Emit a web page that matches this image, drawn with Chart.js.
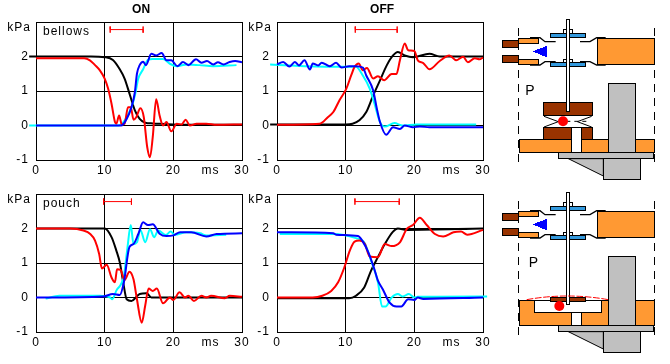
<!DOCTYPE html>
<html>
<head>
<meta charset="utf-8">
<title>Valve pressure traces</title>
<script src="https://cdn.jsdelivr.net/npm/chart.js@4"></script>
<style>
  html, body { margin: 0; background: #fff; }
  body { width: 670px; height: 364px; position: relative; overflow: hidden; }
  canvas, svg { position: absolute; }
</style>
</head>
<body>
<canvas id="onBellows" width="250" height="182" style="left:0;top:0"></canvas>
<canvas id="offBellows" width="250" height="182" style="left:240px;top:0"></canvas>
<canvas id="onPouch" width="250" height="182" style="left:0;top:172px"></canvas>
<canvas id="offPouch" width="250" height="182" style="left:240px;top:172px"></canvas>

<!-- valve drawings, coordinates are 3x screen pixels -->
<svg width="180" height="364" viewBox="0 0 540 1092" style="left:490px;top:0" shape-rendering="crispEdges">
  <defs>
    <g id="valve" stroke="#000" stroke-width="3">
      <rect x="37" y="121" width="48" height="22" fill="#993300"/>
      <rect x="37" y="165" width="48" height="22" fill="#993300"/>
      <rect x="85" y="115" width="60" height="15" fill="#ff9933"/>
      <rect x="85" y="178" width="60" height="15" fill="#ff9933"/>
      <rect x="322" y="115" width="171" height="78" fill="#ff9933"/>
      <polygon points="127,154 170,138 170,172" fill="#0000ff" stroke="none"/>
      <g fill="none" stroke-width="4" shape-rendering="auto">
        <polyline points="120,113 150,113 165,125 197,125"/>
        <polyline points="120,195 150,195 165,185 197,185"/>
        <polyline points="347,113 320,113 300,125 270,125"/>
        <polyline points="347,195 320,195 300,185 270,185"/>
      </g>
      <rect x="220" y="88" width="28" height="12" fill="#fff"/>
      <rect x="220" y="178" width="28" height="10" fill="#fff"/>
      <rect x="181" y="100" width="106" height="12" fill="#3399dd"/>
      <rect x="181" y="188" width="106" height="12" fill="#3399dd"/>
    </g>
    <g id="mount" stroke="#000" stroke-width="3">
      <rect x="205" y="458" width="286" height="18" fill="#c0c0c0"/>
      <polygon points="235,476 340,528 340,476" fill="#c0c0c0" shape-rendering="auto"/>
      <rect x="340" y="476" width="112" height="62" fill="#c0c0c0"/>
    </g>
  </defs>

  <!-- bellows -->
  <g stroke="#000" stroke-width="3" stroke-dasharray="24 18">
    <line x1="85" y1="85" x2="85" y2="495"/>
    <line x1="493" y1="85" x2="493" y2="495"/>
  </g>
  <use href="#valve"/>
  <text x="106" y="285" font-family="Liberation Sans" font-size="42">P</text>
  <g stroke="#000" stroke-width="3">
    <rect x="87" y="418" width="406" height="40" fill="#ff9933"/>
    <rect x="355" y="250" width="82" height="208" fill="#c0c0c0"/>
    <rect x="160" y="307" width="148" height="39" fill="#993300"/>
    <rect x="160" y="382" width="148" height="36" fill="#993300"/>
    <rect x="245" y="382" width="30" height="76" fill="#fff"/>
    <rect x="229" y="58" width="10" height="276" fill="#fff"/>
    <g fill="none" shape-rendering="auto">
      <polyline points="162,349 205,365 162,381"/>
      <polyline points="305,349 262,365 305,381"/>
      <line x1="205" y1="364" x2="290" y2="364" stroke-dasharray="12 12"/>
    </g>
  </g>
  <circle cx="219" cy="364" r="15" fill="#ff0000" shape-rendering="auto"/>
  <use href="#mount"/>

  <!-- pouch -->
  <g transform="translate(0,519)">
    <g stroke="#000" stroke-width="3" stroke-dasharray="24 18">
      <line x1="85" y1="85" x2="85" y2="495"/>
      <line x1="493" y1="85" x2="493" y2="495"/>
    </g>
    <use href="#valve"/>
    <text x="116" y="282" font-family="Liberation Sans" font-size="42">P</text>
    <g stroke="#000" stroke-width="3">
      <rect x="87" y="382" width="406" height="76" fill="#ff9933"/>
      <rect x="133" y="382" width="202" height="36" fill="#fff"/>
      <rect x="245" y="418" width="30" height="40" fill="#fff"/>
      <rect x="355" y="250" width="82" height="208" fill="#c0c0c0"/>
      <rect x="181" y="373" width="106" height="12" fill="#993300"/>
      <rect x="229" y="58" width="10" height="336" fill="#fff"/>
    </g>
    <path d="M110 380 Q232 358 355 380" fill="none" stroke="#ff0000" stroke-width="3" stroke-dasharray="20 5" shape-rendering="auto"/>
    <circle cx="208" cy="399" r="15" fill="#ff0000" shape-rendering="auto"/>
    <use href="#mount"/>
  </g>
</svg>

<script>
// traces, each point is [ms, kPa]
const onBellowsBlack = [[-1,2],[8,2],[10,1.98],[11.2,1.9],[12.2,1.63],[12.9,1.36],[13.7,.87],[14.4,.44],[15.1,.19],[15.9,.08],[17,.06],[20,.03],[22,.02],[30,.02]];
const onBellowsCyan = [[-1,0],[12,0],[12.6,.07],[13.2,.24],[13.9,.53],[14.4,.87],[14.9,1.36],[15.6,1.63],[16.3,1.9],[17,1.93],[18.5,1.93],[19.5,1.79],[20.5,1.72],[22,1.77],[23.8,1.75],[25.8,1.72],[29.2,1.75]];
const onBellowsRed = [[0,1.95],[7,1.95],[7.85,1.89],[8.6,1.75],[9.3,1.6],[10,1.36],[10.5,1.07],[11,.63],[11.5,.1],[11.7,.05],[12.1,.29],[12.5,.03],[12.9,.05],[13.4,.53],[13.8,.53],[14.2,.17],[14.6,.24],[15.2,.5],[15.7,.24],[16.2,-.63],[16.6,-.92],[17,-.34],[17.5,.76],[18,.29],[18.5,0],[19,.1],[19.7,-.17],[20.5,.05],[21.2,.03],[21.8,.17],[22.4,0],[23.4,.05],[24.8,.05],[26.3,.02],[30,.03]];
const onBellowsBlue = [[0,0],[12.4,0],[13.2,.19],[13.9,.53],[14.4,.97],[14.7,1.5],[15.1,1.75],[15.6,1.85],[16,1.75],[16.8,2.08],[17.5,2.03],[18.3,2.1],[19,1.89],[19.7,1.89],[20.6,1.72],[21.4,1.84],[22.2,1.75],[23.3,1.92],[24.1,1.82],[24.9,1.87],[25.8,1.77],[26.5,1.83],[27.3,1.77],[28.2,1.84],[29,1.87],[30,1.83]];
const onBellowsSpan = [10.8, 15.6];

const offBellowsBlack = [[-1,.03],[10,.03],[11,.05],[12,.15],[13,.39],[14,.87],[15,1.31],[16,1.75],[16.9,2.03],[17.6,2.13],[18.6,2.03],[19.8,1.98],[22.2,2.08],[23.7,2],[30,2]];
const offBellowsCyan = [[-1,1.77],[8.2,1.7],[11.5,1.7],[12.5,1.45],[13.5,1.07],[14.2,.63],[15,.1],[15.7,-.03],[17.1,.07],[18.3,0],[20.3,.03],[29,.03]];
const offBellowsRed = [[0,.02],[6.2,.05],[7.4,.24],[8.2,.39],[9.1,.73],[10.1,1.07],[10.8,1.45],[11.3,1.7],[11.9,1.8],[12.5,1.6],[13.1,1.67],[14,1.36],[14.7,1.43],[15.6,1.31],[16.7,1.49],[17.4,1.49],[17.9,1.89],[18.6,2.38],[19.1,2.18],[20,2.16],[20.5,1.89],[21.3,1.81],[22.2,1.63],[23.7,1.87],[25.1,2.03],[26.1,1.89],[27.1,1.99],[27.8,1.83],[28.8,1.95],[29.5,1.92],[30,1.97]];
const offBellowsBlue = [[0,1.77],[.9,1.84],[1.8,1.71],[2.6,1.84],[3.2,1.74],[4,1.89],[4.8,1.62],[5.2,1.8],[6,1.74],[6.5,1.82],[7.7,1.72],[8.6,1.82],[9.4,1.68],[10.5,1.72],[11.5,1.72],[12.5,1.68],[13,1.45],[14,1.02],[14.5,.53],[15,.1],[15.9,-.27],[16.9,-.05],[17.9,-.1],[18.6,0],[19.8,-.05],[20.8,-.03],[22.2,-.05],[30,-.05]];
const offBellowsSpan = [11.4, 17.5];

const onPouchBlack = [[0,2],[10,2],[11,1.75],[11.7,1.36],[12.2,1.02],[12.7,.44],[13.2,-.05],[13.9,-.1],[15.1,.1],[16.1,.12],[16.8,0],[30,0]];
const onPouchCyan = [[1.4,-.03],[3.4,.05],[9.3,.05],[10.8,0],[11.1,-.05],[11.7,.2],[12.8,.63],[13.3,1.41],[13.8,2.1],[14.2,1.55],[14.7,1.6],[15.2,1.96],[15.9,1.6],[16.6,1.98],[17.2,1.75],[17.8,1.94],[18.9,1.81],[19.6,1.91],[20.2,1.82],[21.9,1.89],[23.9,1.86],[24.8,1.8],[27.7,1.82]];
const onPouchRed = [[0,2],[5,2],[6.9,1.94],[7.9,1.84],[8.6,1.65],[9.2,1.26],[9.6,.84],[10.3,.95],[11,.58],[11.5,.44],[11.8,.82],[12.3,.8],[12.9,.51],[13.6,.75],[14.2,.53],[14.7,-.05],[15.4,-.73],[15.9,-.24],[16.4,.26],[17,.19],[17.6,.26],[18.5,-.17],[19.5,0],[20,-.07],[20.9,.15],[21.7,0],[22.2,.05],[23,-.1],[24.1,.05],[24.8,0],[25.5,.05],[27.5,-.02],[28.2,.05],[30,.02]];
const onPouchBlue = [[0,0],[9.8,.03],[11.2,.1],[12.2,.07],[12.8,.44],[13.6,1.46],[14.2,1.55],[14.9,1.84],[15.6,2.18],[16.3,2.1],[17,2.12],[18,1.85],[19,1.78],[20,1.8],[21,1.89],[22.6,1.89],[24.8,1.77],[26.3,1.84],[30,1.86]];
const onPouchSpan = [9.85, 13.9];

const offPouchBlack = [[0,-.02],[10.5,-.02],[11.5,.05],[12.7,.29],[13.7,.78],[14.7,1.17],[15.7,1.55],[16.9,1.91],[17.6,2],[18.9,1.96],[30,2]];
const offPouchCyan = [[.4,1.84],[8.2,1.84],[11.5,1.72],[12.7,1.6],[13.7,1.07],[14.7,.44],[15.3,-.26],[15.8,-.26],[16.7,0],[17.6,.1],[18.3,.03],[19.2,.1],[20,0],[20.5,.02],[30.6,.03]];
const offPouchRed = [[0,0],[5.2,0],[6.6,.05],[7.9,.19],[8.9,.44],[9.8,.87],[10.6,1.36],[11.3,1.62],[12,1.65],[12.8,1.55],[13.5,1.19],[14.7,1.17],[15.7,1.55],[16.7,1.49],[17.9,1.6],[18.9,1.99],[19.8,2.1],[20.8,2.31],[21.8,2.1],[23,1.84],[24.2,1.77],[25.7,1.89],[26.8,1.91],[27.7,1.82],[30,1.96]];
const offPouchBlue = [[0,1.89],[2,1.89],[8.2,1.86],[8.6,1.82],[11.8,1.78],[12.5,1.62],[13.3,1.31],[14.1,.87],[14.7,.49],[15.4,.24],[16.4,-.15],[17.4,-.26],[18.1,-.26],[19.1,-.05],[20,-.07],[20.5,0],[21.3,-.04],[30,0]];
const offPouchSpan = [11.35, 17.8];

const xTicks = [0, 10, 20, 30];
const yTicks = [-1, 0, 1, 2];
const spanLevel = 2.78;
const spanCap = 0.09;

const textFont = "12px 'Liberation Sans', Arial, sans-serif";

// chart title, axis units and the panel name
const panelText = {
    id: 'panelText',
    beforeDraw: function (chart) {
        chart.ctx.letterSpacing = '1px';
    },
    afterDraw: function (chart, args, opts) {
        var ctx = chart.ctx, area = chart.chartArea;
        ctx.save();
        ctx.fillStyle = '#000';
        ctx.font = textFont;
        ctx.textBaseline = 'middle';
        ctx.textAlign = 'right';
        ctx.fillText('kPa', area.left - 5, 28);
        ctx.textAlign = 'center';
        ctx.fillText('ms', chart.scales.x.getPixelForValue(25.4), 171);
        if (opts.name) {
            ctx.textAlign = 'left';
            ctx.fillText(opts.name, area.left + 7, 32);
        }
        if (opts.title) {
            ctx.letterSpacing = '0px';
            ctx.font = "bold 12px 'Liberation Sans', Arial, sans-serif";
            ctx.textAlign = 'center';
            ctx.fillText(opts.title, chart.scales.x.getPixelForValue(15.3), 10);
        }
        ctx.restore();
    }
};

function toXY(points) {
    return points.map(function (p) { return { x: p[0], y: p[1] }; });
}

function trace(points, color) {
    return {
        data: toXY(points), borderColor: color, borderWidth: 2, pointRadius: 0,
        cubicInterpolationMode: 'monotone', clip: false
    };
}

function drawPanel(id, black, cyan, red, blue, span, name, title) {
    var spanPoints = [
        [span[0], spanLevel + spanCap], [span[0], spanLevel - spanCap], [span[0], spanLevel],
        [span[1], spanLevel], [span[1], spanLevel + spanCap], [span[1], spanLevel - spanCap]
    ];
    var spanSet = { data: toXY(spanPoints), borderColor: '#ff0000', borderWidth: 1, pointRadius: 0, tension: 0 };
    new Chart(document.getElementById(id), {
        type: 'line',
        data: {
            // first dataset ends up on top
            datasets: [spanSet, trace(blue, '#0000ff'), trace(red, '#ff0000'), trace(cyan, '#00ffff'), trace(black, '#000000')]
        },
        options: {
            responsive: false,
            animation: false,
            layout: { padding: { top: 22, right: id.indexOf('on') === 0 ? 8 : 7, left: 0, bottom: 0 } },
            plugins: {
                legend: { display: false },
                tooltip: { enabled: false },
                panelText: { name: name, title: title }
            },
            scales: {
                x: {
                    type: 'linear', min: 0, max: 30,
                    afterBuildTicks: function (axis) { axis.ticks = xTicks.map(function (v) { return { value: v }; }); },
                    afterFit: function (axis) { axis.height = 22; axis.paddingLeft = 0; axis.paddingRight = 0; },
                    ticks: { padding: 3, maxRotation: 0, color: '#000', font: { family: "'Liberation Sans', Arial, sans-serif", size: 12 } },
                    grid: { color: '#000', drawTicks: false },
                    border: { color: '#000' }
                },
                y: {
                    type: 'linear', min: -1, max: 3,
                    afterBuildTicks: function (axis) { axis.ticks = yTicks.concat(3).map(function (v) { return { value: v }; }); },
                    afterFit: function (axis) { axis.width = id.indexOf('on') === 0 ? 36 : 37; axis.paddingTop = 0; axis.paddingBottom = 0; },
                    ticks: {
                        padding: 7, color: '#000', font: { family: "'Liberation Sans', Arial, sans-serif", size: 12 },
                        callback: function (v) { return yTicks.indexOf(v) >= 0 ? String(v) : ''; }
                    },
                    grid: { color: '#000', drawTicks: false },
                    border: { color: '#000' }
                }
            }
        },
        plugins: [panelText]
    });
}

drawPanel('onBellows', onBellowsBlack, onBellowsCyan, onBellowsRed, onBellowsBlue, onBellowsSpan, 'bellows', 'ON');
drawPanel('offBellows', offBellowsBlack, offBellowsCyan, offBellowsRed, offBellowsBlue, offBellowsSpan, '', 'OFF');
drawPanel('onPouch', onPouchBlack, onPouchCyan, onPouchRed, onPouchBlue, onPouchSpan, 'pouch', '');
drawPanel('offPouch', offPouchBlack, offPouchCyan, offPouchRed, offPouchBlue, offPouchSpan, '', '');
</script>
</body>
</html>
